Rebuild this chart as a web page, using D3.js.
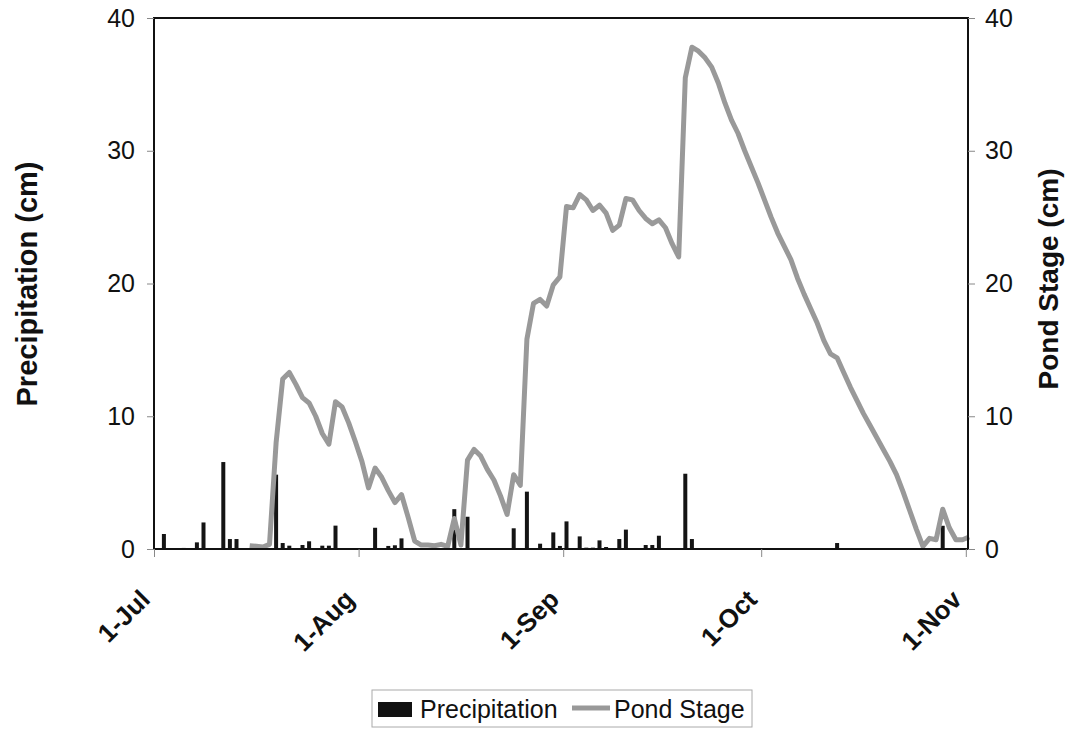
<!DOCTYPE html>
<html>
<head>
<meta charset="utf-8">
<script src="https://cdn.jsdelivr.net/npm/d3@7"></script>
<style>
  body { margin: 0; background: #fff; }
  svg { font-family: Arial, "Liberation Sans", sans-serif; }
</style>
</head>
<body>
<svg class="chart" width="1073" height="730"></svg>
<script>
// data (year is arbitrary, only month-day is shown)
var precipDays = ["07-02", "07-05", "07-07", "07-08", "07-11", "07-12", "07-13", "07-19", "07-20", "07-21",
    "07-23", "07-24", "07-25", "07-26", "07-27", "07-28", "08-03", "08-05", "08-06", "08-07",
    "08-11", "08-15", "08-17", "08-18", "08-19", "08-22", "08-24", "08-26", "08-28", "08-30",
    "08-31", "09-01", "09-03", "09-04", "09-05", "09-06", "09-07", "09-09", "09-10", "09-11",
    "09-13", "09-14", "09-15", "09-19", "09-20", "09-26", "10-12", "10-28"];
var precipValues = [1.13, 0.08, 0.5, 2.0, 6.55, 0.75, 0.75, 5.6, 0.45, 0.25,
    0.3, 0.58, 0.05, 0.25, 0.25, 1.76, 1.6, 0.23, 0.28, 0.8,
    0.05, 3.0, 2.43, 0.05, 0.05, 0.05, 1.56, 4.32, 0.4, 1.25,
    0.23, 2.08, 0.95, 0.1, 0.1, 0.65, 0.15, 0.75, 1.46, 0.05,
    0.3, 0.3, 1.0, 5.67, 0.75, 0.05, 0.45, 1.75];

// pond stage, one value per day from 15-Jul to 1-Nov
var stageStart = "07-15";
var stageValues = [0.25, 0.2, 0.15, 0.35, 8.0, 12.8, 13.3, 12.4, 11.4, 11.0,
    10.0, 8.7, 7.9, 11.1, 10.7, 9.5, 8.1, 6.6, 4.6, 6.1,
    5.4, 4.4, 3.5, 4.1, 2.4, 0.6, 0.3, 0.3, 0.25, 0.35,
    0.2, 2.3, 0.3, 6.7, 7.5, 7.0, 6.0, 5.2, 4.0, 2.6,
    5.6, 4.8, 15.8, 18.5, 18.8, 18.3, 19.9, 20.5, 25.8, 25.7,
    26.7, 26.3, 25.5, 25.9, 25.3, 24.0, 24.4, 26.4, 26.3, 25.5,
    24.9, 24.5, 24.8, 24.2, 23.0, 22.0, 35.5, 37.8, 37.5, 37.0,
    36.3, 35.1, 33.6, 32.3, 31.3, 30.0, 28.8, 27.6, 26.3, 25.0,
    23.8, 22.8, 21.8, 20.4, 19.2, 18.1, 17.0, 15.7, 14.7, 14.4,
    13.3, 12.2, 11.2, 10.2, 9.3, 8.4, 7.5, 6.6, 5.6, 4.3,
    2.9, 1.5, 0.2, 0.8, 0.7, 3.0, 1.6, 0.7, 0.7, 0.9];

var tickDays = ["07-01", "08-01", "09-01", "10-01", "11-01"];
var yTicks = [0, 10, 20, 30, 40];

var parseDay = function(s) { return d3.timeParse("%Y-%m-%d")("2003-" + s); };
var fmtDay = d3.timeFormat("%-d-%b");

// plot area
var plot = {left: 154, right: 968, top: 18, bottom: 549};

var x = d3.scaleTime()
    .domain([parseDay("07-01"), d3.timeHour.offset(parseDay("11-01"), 8)])
    .range([plot.left, plot.right]);
var yL = d3.scaleLinear().domain([0, 40]).range([plot.bottom, plot.top]);
var yR = d3.scaleLinear().domain([0, 40]).range([plot.bottom, plot.top]);

// centre of a day
function mid(d) { return x(d3.timeHour.offset(d, 12)); }

var svg = d3.select("svg.chart");

// bars
var precip = precipDays.map(function(s, i) { return {date: parseDay(s), value: precipValues[i]}; });
svg.append("g").selectAll("rect")
    .data(precip)
  .enter().append("rect")
    .attr("x", function(d) { return mid(d.date) - 2; })
    .attr("width", 4)
    .attr("y", function(d) { return yL(d.value); })
    .attr("height", function(d) { return plot.bottom - yL(d.value); })
    .attr("fill", "#141414");

// pond stage line
var start = parseDay(stageStart);
var stage = stageValues.map(function(v, i) { return {date: d3.timeDay.offset(start, i), value: v}; });
svg.append("path")
    .datum(stage)
    .attr("fill", "none")
    .attr("stroke", "#999")
    .attr("stroke-width", 5)
    .attr("stroke-linejoin", "round")
    .attr("d", d3.line()
        .x(function(d) { return mid(d.date); })
        .y(function(d) { return yR(d.value); }));

// frame
svg.append("rect")
    .attr("x", plot.left).attr("y", plot.top)
    .attr("width", plot.right - plot.left).attr("height", plot.bottom - plot.top)
    .attr("fill", "none").attr("stroke", "#111").attr("stroke-width", 2);

// left axis
var gl = svg.append("g").attr("transform", "translate(" + plot.left + ",0)")
    .call(d3.axisLeft(yL).tickValues(yTicks).tickSize(7).tickPadding(12).tickFormat(d3.format("d")));
gl.select(".domain").remove();
gl.selectAll("line").attr("stroke", "#888");
gl.selectAll("text").attr("font-size", 25).attr("fill", "#111").attr("font-family", null);

// right axis
var gr = svg.append("g").attr("transform", "translate(" + plot.right + ",0)")
    .call(d3.axisRight(yR).tickValues(yTicks).tickSize(7).tickPadding(10).tickFormat(d3.format("d")));
gr.select(".domain").remove();
gr.selectAll("line").attr("stroke", "#888");
gr.selectAll("text").attr("font-size", 25).attr("fill", "#111").attr("font-family", null);

// x axis
var gx = svg.append("g").attr("transform", "translate(0," + plot.bottom + ")")
    .call(d3.axisBottom(x).tickValues(tickDays.map(parseDay)).tickSize(8).tickFormat(fmtDay));
gx.select(".domain").remove();
gx.selectAll("line").attr("stroke", "#888");
gx.selectAll("text")
    .attr("font-size", 26).attr("font-weight", "bold").attr("fill", "#111").attr("font-family", null)
    .attr("text-anchor", "end")
    .attr("dy", null).attr("y", 0)
    .attr("transform", "translate(-3,52) rotate(-45)");

// axis titles
svg.append("text")
    .attr("transform", "translate(37,284) rotate(-90)")
    .attr("text-anchor", "middle")
    .attr("font-size", 29).attr("font-weight", "bold").attr("fill", "#111")
    .text("Precipitation (cm)");
svg.append("text")
    .attr("transform", "translate(1058,279) rotate(-90)")
    .attr("text-anchor", "middle")
    .attr("font-size", 28).attr("font-weight", "bold").attr("fill", "#111")
    .text("Pond Stage (cm)");

// legend
var lg = svg.append("g");
lg.append("rect")
    .attr("x", 372).attr("y", 690).attr("width", 380).attr("height", 37)
    .attr("fill", "none").attr("stroke", "#aaa").attr("stroke-width", 1);
lg.append("rect")
    .attr("x", 378).attr("y", 702).attr("width", 34).attr("height", 15)
    .attr("fill", "#111");
lg.append("text")
    .attr("x", 420).attr("y", 718)
    .attr("font-size", 25).attr("fill", "#111")
    .text("Precipitation");
lg.append("line")
    .attr("x1", 572).attr("x2", 610).attr("y1", 708).attr("y2", 708)
    .attr("stroke", "#999").attr("stroke-width", 5);
lg.append("text")
    .attr("x", 614).attr("y", 718)
    .attr("font-size", 25).attr("fill", "#111")
    .text("Pond Stage");
</script>
</body>
</html>
